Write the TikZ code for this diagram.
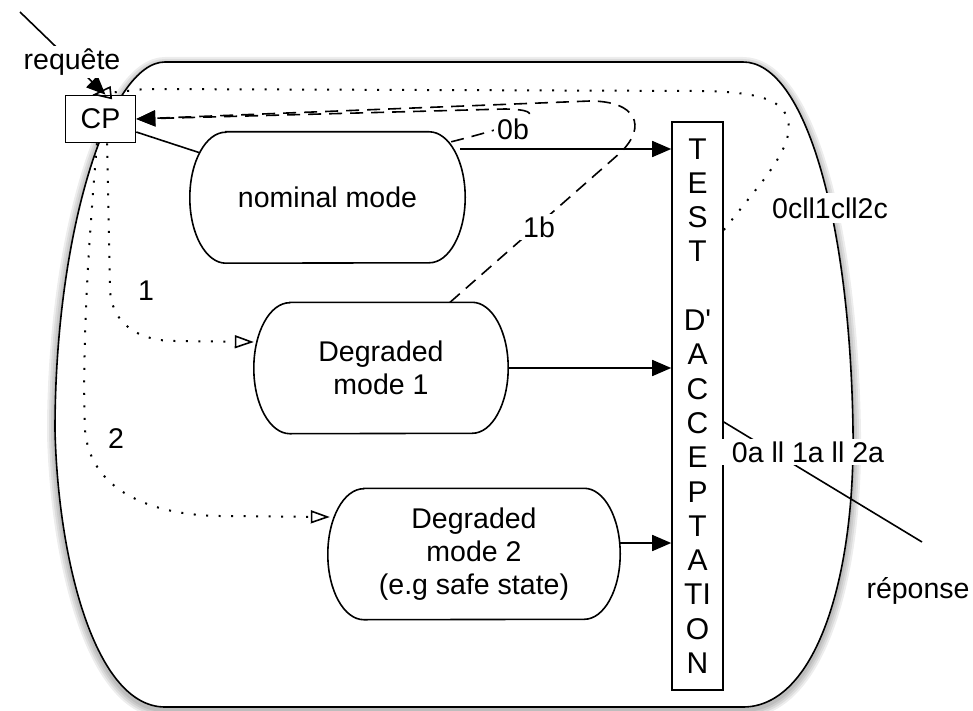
\documentclass[tikz,border=0pt]{standalone}
\usepackage{fontspec}
\setmainfont{Liberation Sans}
\newfontfamily\plainsans{Liberation Sans}
\usetikzlibrary{arrows.meta,calc}

% outline of a mode box: straight top and bottom, elliptic ends
\newcommand\stadiumoutline[1]{%
  \draw[rim] ($(#1.north west)+(36pt,0)$) -- ($(#1.north east)+(-36pt,0)$)
    arc[start angle=90,end angle=-90,x radius=36pt,y radius=65.5pt]
    -- ($(#1.south west)+(36pt,0)$)
    arc[start angle=270,end angle=90,x radius=36pt,y radius=65.5pt] -- cycle;}

% enclosing system boundary
\newcommand\boundarypath{(165,-62) -- (743,-62) .. controls (805,-62) and (850,-220) .. (853,-430)
  .. controls (855,-580) and (815,-707) .. (743,-707) -- (165,-707)
  .. controls (95,-707) and (58,-560) .. (55,-430)
  .. controls (55,-230) and (110,-62) .. (165,-62) -- cycle}

\begin{document}
\begin{tikzpicture}[x=1pt,y=1pt,
  rim/.style={line width=1.6pt},
  conn/.style={line width=1.6pt},
  lbl/.style={font=\fontsize{28.5}{33}\selectfont, inner sep=2pt},
  knock/.style={fill=white, inner sep=3pt},
  cpbox/.style={draw, line width=1.6pt, fill=white, minimum width=70pt, minimum height=47pt,
    inner sep=0pt, font=\fontsize{28.5}{33}\selectfont},
  modebox/.style={draw=none, minimum height=131pt, inner sep=0pt, align=center,
    font=\fontsize{28.5}{33}\selectfont},
  testbox/.style={draw, line width=1.6pt, minimum width=51pt, minimum height=568pt,
    inner sep=0pt, align=center, font=\plainsans\fontsize{30}{34.3}\selectfont},
  solidarrow/.style={conn, -{Triangle[length=19pt,width=16pt]}},
  dashedarrow/.style={conn, dash pattern=on 13pt off 8pt, -{Triangle[length=19pt,width=16pt]}},
  dotpath/.style={line width=2pt, dash pattern=on 2pt off 10.5pt},
  dotarrow/.style={dotpath, -{Triangle[open,length=19pt,width=13pt,line width=1.6pt]}},
]
\useasboundingbox (0,0) rectangle (973,-711);
\fill[white] (0,0) rectangle (973,-711);

% soft shadow round the boundary, then the boundary itself
\begin{scope}[yshift=-3pt]
  \foreach \w in {16,12,8,4}
    \draw[black, opacity=0.07, line width=\w pt, line join=round] \boundarypath;
\end{scope}
\draw[rim, fill=white] \boundarypath;

% nodes
\node[cpbox] (cp) at (100.5,-119) {CP};
\node[modebox, minimum width=275pt] (nom) at (327.5,-197.5) {nominal mode};
\node[modebox, minimum width=254pt] (deg1) at (381,-368) {Degraded\\mode 1};
\node[modebox, minimum width=292pt] (deg2) at (474,-554) {Degraded\\mode 2\\(e.g safe state)};
\stadiumoutline{nom}
\stadiumoutline{deg1}
\stadiumoutline{deg2}
\node[testbox] (test) at (697.5,-406)
  {T\\E\\S\\T\\\mbox{}\\D'\\A\\C\\C\\E\\P\\T\\A\\TI\\O\\N};

\coordinate (reqstart) at (20,-12);
\coordinate (respend) at (922,-542);

% outputs towards the acceptance test
\coordinate (n0) at ($(nom.east)+(-5,48.5)$);
\draw[solidarrow] (n0) -- (n0 -| test.west);
\draw[solidarrow] (deg1.east) -- (deg1.east -| test.west);
\coordinate (d2) at ($(deg2.east)+(0,11)$);
\draw[solidarrow] (d2) -- (d2 -| test.west);

% dotted switch-over paths from CP
\draw[dotarrow] ($(test.east)+(0,176)$) -- (762,-182)
  .. controls (780,-158) and (794,-135) .. (787,-117)
  .. controls (780,-100) and (760,-92) .. (700,-91) -- (145,-89) -- ($(cp.north)+(-8,0)$);
\draw[dotarrow] ($(cp.south)+(6.5,0)$) -- (110,-290)
  .. controls (112,-325) and (140,-341) .. (175,-341) -- ($(deg1.west)+(0,26)$);
\draw[dotarrow] ($(cp.south)+(-3.5,0)$) .. controls (88,-250) and (82,-350) .. (85,-430)
  .. controls (90,-490) and (150,-515) .. (220,-516) -- ($(deg2.west)+(2,37)$);

% dashed returns to CP
\draw[dashedarrow] ($(deg1.north)+(69,0)$) -- (620,-153)
  .. controls (648,-126) and (636,-101) .. (590,-101) -- (cp.east);
\draw[dashedarrow] ($(nom.north east)+(-14,-10)$)
  .. controls (530,-122) and (552,-110) .. (505,-109) -- (cp.east);

\draw[conn] (cp.-20) -- ($(nom.north west)+(10,-21)$);

% request and response
\draw[solidarrow] (reqstart) -- ($(cp.north)+(5,0)$);
\draw[conn] ($(test.east)+(0,-16)$) -- (respend);

% labels
\node[lbl, knock] at (72,-62) {requête};
\node[lbl, knock] at (513,-129) {0b};
\node[lbl, knock] at (539,-227) {1b};
\node[lbl, knock, inner ysep=5pt] at (830,-208) {0cll1cll2c};
\node[lbl, knock, inner xsep=10pt] at (808,-452) {0a ll 1a ll 2a};
\node[lbl] at (146,-291) {1};
\node[lbl] at (116,-439) {2};
\node[lbl] at (918,-591) {réponse};
\end{tikzpicture}
\end{document}
